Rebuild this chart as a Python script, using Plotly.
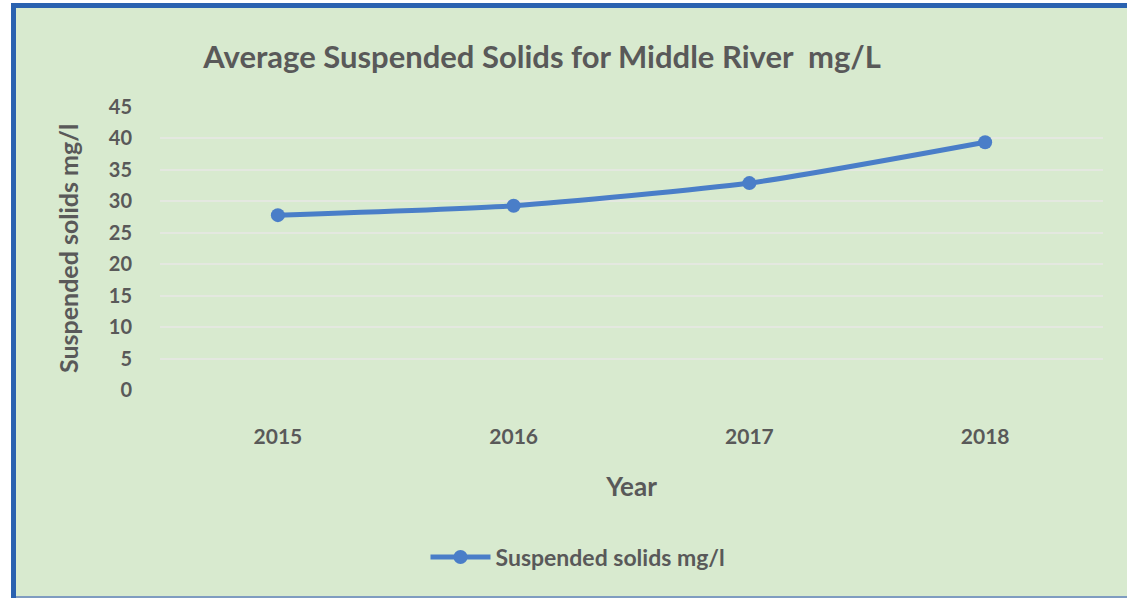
import plotly.graph_objects as go

years = ["2015", "2016", "2017", "2018"]
solids = [27.8, 29.3, 32.9, 39.4]
y_ticks = [0, 5, 10, 15, 20, 25, 30, 35, 40, 45]

GRAY = "#595959"
BLUE = "#4A7EC8"
FONT = "Lato"

# plot area in pixels: x 160..1103, y 107..390
L, R, T, B = 160, 1103, 107, 390
W, H = R - L, B - T


def px(x):
    return (x - L) / W


def py(y):
    return (B - y) / H


def font(size):
    return dict(size=size, color=GRAY, family=FONT, weight="bold")


fig = go.Figure()
fig.add_trace(go.Scatter(
    x=years, y=solids,
    mode="lines+markers",
    line=dict(color=BLUE, width=5, shape="spline", smoothing=0.6),
    marker=dict(size=14, color=BLUE),
    name="Suspended solids mg/l",
))

shapes = [
    # green chart area
    dict(type="rect", xref="paper", yref="paper", layer="below",
         x0=px(13), x1=px(1140), y0=py(597), y1=py(5),
         fillcolor="#D8EACF", line=dict(width=0)),
    # left, top and bottom border
    dict(type="line", xref="paper", yref="paper", layer="below",
         x0=px(13.5), x1=px(13.5), y0=py(598), y1=py(3),
         line=dict(color="#2A62B0", width=5)),
    dict(type="line", xref="paper", yref="paper", layer="below",
         x0=px(11), x1=px(1140), y0=py(5.5), y1=py(5.5),
         line=dict(color="#2A62B0", width=5)),
    dict(type="line", xref="paper", yref="paper", layer="below",
         x0=px(16), x1=px(1140), y0=py(597), y1=py(597),
         line=dict(color="#7F9CC0", width=2)),
]

fig.update_layout(
    width=1127, height=598,
    margin=dict(l=L, r=1127 - R, t=T, b=598 - B),
    paper_bgcolor="white",
    plot_bgcolor="rgba(0,0,0,0)",
    font=dict(family=FONT, color=GRAY),
    title=dict(text="Average Suspended Solids for Middle River  mg/L",
               x=0.481, xanchor="center", y=1 - 57 / 598, yanchor="middle",
               font=font(31)),
    shapes=shapes,
    showlegend=True,
    legend=dict(orientation="h", x=px(578), xanchor="center",
                y=py(557), yanchor="middle", itemwidth=60,
                bgcolor="rgba(0,0,0,0)", font=font(23)),
    xaxis=dict(
        type="category", range=[-0.5, 3.5],
        showgrid=False, showline=False, zeroline=False,
        ticks="", ticklabelstandoff=32,
        tickfont=font(21),
        title=dict(text="Year", standoff=30, font=font(26)),
    ),
    yaxis=dict(
        range=[0, 45], tickvals=y_ticks,
        showgrid=True, gridcolor="#E4E8E0", gridwidth=2,
        zeroline=False, showline=False, ticks="",
        ticklabelstandoff=27,
        tickfont=font(20),
        title=dict(text="Suspended solids mg/l", standoff=23, font=font(25)),
    ),
)

fig.write_html("out.html", config={"displayModeBar": False},
               post_script="document.body.style.margin='0';")
